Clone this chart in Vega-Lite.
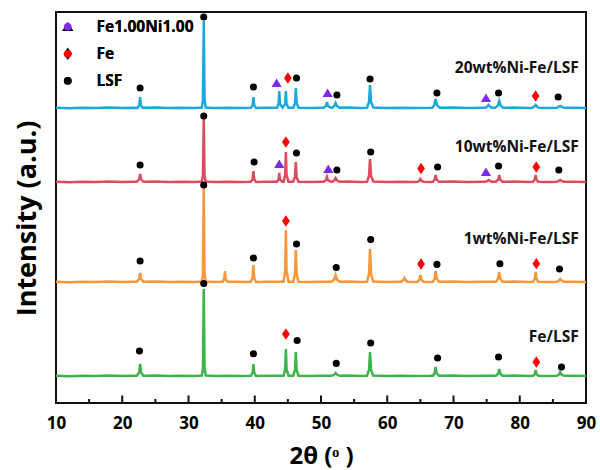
{
"$schema":"https://vega.github.io/schema/vega-lite/v6.json",
"width":530,"height":391,
"autosize":{"type":"none"},
"padding":{"left":56,"top":12,"right":14,"bottom":67},
"config":{"view":{"stroke":"#111","strokeWidth":2},"font":"Open Sans",
 "legend":{"labelOffset":21,"symbolSize":60,"rowPadding":10,"padding":0,"labelFont":"Open Sans","labelFontWeight":"bold","labelFontSize":15.5,"labelColor":"#000","symbolStrokeWidth":0,"symbolOpacity":1}},
"datasets":{
"lines":[
{"s":"b","x":10,"y":295.3},{"s":"b","x":12,"y":294.8},{"s":"b","x":14,"y":295.2},{"s":"b","x":16,"y":294.9},{"s":"b","x":18,"y":295.4},{"s":"b","x":20,"y":295},{"s":"b","x":21.5,"y":295.3},
{"s":"b","x":22.3,"y":295.1},{"s":"b","x":22.58,"y":297.8},{"s":"b","x":22.7,"y":306},{"s":"b","x":22.82,"y":297.8},{"s":"b","x":23.1,"y":295.2},
{"s":"b","x":25,"y":295.4},{"s":"b","x":27,"y":294.9},{"s":"b","x":29,"y":295.3},{"s":"b","x":31,"y":295.1},
{"s":"b","x":32.0,"y":295.5},{"s":"b","x":32.18,"y":303},{"s":"b","x":32.3,"y":382},{"s":"b","x":32.42,"y":303},{"s":"b","x":32.6,"y":295.5},
{"s":"b","x":34,"y":295},{"s":"b","x":36,"y":295.3},{"s":"b","x":38,"y":294.9},
{"s":"b","x":39.4,"y":295.2},{"s":"b","x":39.68,"y":297.8},{"s":"b","x":39.8,"y":306},{"s":"b","x":39.92,"y":297.8},{"s":"b","x":40.2,"y":295.1},
{"s":"b","x":41.5,"y":295.3},{"s":"b","x":43.2,"y":295.2},
{"s":"b","x":43.35,"y":295.2},{"s":"b","x":43.6,"y":299},{"s":"b","x":43.7,"y":312},{"s":"b","x":43.8,"y":299},{"s":"b","x":44.2,"y":295.3},
{"s":"b","x":44.6,"y":299},{"s":"b","x":44.7,"y":312},{"s":"b","x":44.8,"y":299},{"s":"b","x":45.1,"y":295.3},
{"s":"b","x":45.5,"y":295.2},
{"s":"b","x":45.8,"y":295.3},{"s":"b","x":46.08,"y":300},{"s":"b","x":46.2,"y":315},{"s":"b","x":46.32,"y":300},{"s":"b","x":46.6,"y":295.3},
{"s":"b","x":48,"y":295},{"s":"b","x":50.3,"y":295.3},
{"s":"b","x":50.4,"y":295.2},{"s":"b","x":50.75,"y":297},{"s":"b","x":50.9,"y":301},{"s":"b","x":51.05,"y":297},{"s":"b","x":51.5,"y":295.3},
{"s":"b","x":51.7,"y":295.2},{"s":"b","x":52.0,"y":297},{"s":"b","x":52.2,"y":300},{"s":"b","x":52.4,"y":297},{"s":"b","x":52.8,"y":295.2},
{"s":"b","x":54,"y":295.4},{"s":"b","x":56,"y":295},
{"s":"b","x":56.95,"y":295.3},{"s":"b","x":57.25,"y":301},{"s":"b","x":57.4,"y":318},{"s":"b","x":57.55,"y":301},{"s":"b","x":57.9,"y":295.4},
{"s":"b","x":60,"y":295.1},{"s":"b","x":62,"y":295.3},{"s":"b","x":64,"y":295},{"s":"b","x":66.6,"y":295.2},
{"s":"b","x":66.8,"y":295.3},{"s":"b","x":67.1,"y":298},{"s":"b","x":67.3,"y":304},{"s":"b","x":67.5,"y":298},{"s":"b","x":67.9,"y":295.2},
{"s":"b","x":70,"y":295.4},{"s":"b","x":72,"y":295},{"s":"b","x":74.5,"y":295.3},
{"s":"b","x":74.8,"y":295.2},{"s":"b","x":75.1,"y":296.5},{"s":"b","x":75.3,"y":298},{"s":"b","x":75.5,"y":296.5},{"s":"b","x":75.8,"y":295.3},
{"s":"b","x":76.3,"y":295.3},{"s":"b","x":76.7,"y":297.5},{"s":"b","x":76.9,"y":302},{"s":"b","x":77.1,"y":297.5},{"s":"b","x":77.5,"y":295.2},
{"s":"b","x":79,"y":295.4},{"s":"b","x":81.5,"y":295},
{"s":"b","x":81.9,"y":295.2},{"s":"b","x":82.2,"y":296.5},{"s":"b","x":82.4,"y":298},{"s":"b","x":82.6,"y":296.5},{"s":"b","x":82.9,"y":295.3},
{"s":"b","x":84.5,"y":295.1},
{"s":"b","x":85.6,"y":295.3},{"s":"b","x":85.9,"y":296.3},{"s":"b","x":86.1,"y":297},{"s":"b","x":86.3,"y":296.3},{"s":"b","x":86.7,"y":295.2},
{"s":"b","x":88,"y":295.3},{"s":"b","x":90,"y":295},

{"s":"r","x":10,"y":221.3},{"s":"r","x":12,"y":220.8},{"s":"r","x":14,"y":221.2},{"s":"r","x":16,"y":220.9},{"s":"r","x":18,"y":221.4},{"s":"r","x":20,"y":221},{"s":"r","x":21.5,"y":221.3},
{"s":"r","x":22.2,"y":221.2},{"s":"r","x":22.55,"y":223.5},{"s":"r","x":22.7,"y":229},{"s":"r","x":22.85,"y":223.5},{"s":"r","x":23.2,"y":221.2},
{"s":"r","x":25,"y":221.4},{"s":"r","x":27,"y":220.9},{"s":"r","x":29,"y":221.3},{"s":"r","x":31,"y":221.1},
{"s":"r","x":32.0,"y":221.5},{"s":"r","x":32.18,"y":227},{"s":"r","x":32.3,"y":285},{"s":"r","x":32.42,"y":227},{"s":"r","x":32.6,"y":221.5},
{"s":"r","x":34,"y":221},{"s":"r","x":36,"y":221.3},{"s":"r","x":38,"y":220.9},
{"s":"r","x":39.4,"y":221.2},{"s":"r","x":39.68,"y":223.8},{"s":"r","x":39.8,"y":232},{"s":"r","x":39.92,"y":223.8},{"s":"r","x":40.2,"y":221.1},
{"s":"r","x":41.5,"y":221.3},{"s":"r","x":43.2,"y":221.2},
{"s":"r","x":43.35,"y":221.2},{"s":"r","x":43.6,"y":223.5},{"s":"r","x":43.7,"y":230},{"s":"r","x":43.8,"y":223.5},{"s":"r","x":44.15,"y":221.3},
{"s":"r","x":44.35,"y":221.3},{"s":"r","x":44.6,"y":228},{"s":"r","x":44.7,"y":251},{"s":"r","x":44.8,"y":228},{"s":"r","x":45.1,"y":221.3},
{"s":"r","x":45.5,"y":221.2},
{"s":"r","x":45.8,"y":221.3},{"s":"r","x":46.08,"y":226},{"s":"r","x":46.2,"y":241},{"s":"r","x":46.32,"y":226},{"s":"r","x":46.6,"y":221.3},
{"s":"r","x":48,"y":221},{"s":"r","x":50.3,"y":221.3},
{"s":"r","x":50.4,"y":221.2},{"s":"r","x":50.75,"y":222.8},{"s":"r","x":50.9,"y":226},{"s":"r","x":51.05,"y":222.8},{"s":"r","x":51.5,"y":221.3},
{"s":"r","x":51.7,"y":221.2},{"s":"r","x":52.0,"y":222.6},{"s":"r","x":52.2,"y":225},{"s":"r","x":52.4,"y":222.6},{"s":"r","x":52.8,"y":221.2},
{"s":"r","x":54,"y":221.4},{"s":"r","x":56,"y":221},
{"s":"r","x":56.95,"y":221.3},{"s":"r","x":57.25,"y":227},{"s":"r","x":57.4,"y":244},{"s":"r","x":57.55,"y":227},{"s":"r","x":57.9,"y":221.4},
{"s":"r","x":60,"y":221.1},{"s":"r","x":62,"y":221.3},{"s":"r","x":64.3,"y":221},
{"s":"r","x":64.6,"y":221.2},{"s":"r","x":64.85,"y":222.3},{"s":"r","x":65.0,"y":224},{"s":"r","x":65.15,"y":222.3},{"s":"r","x":65.5,"y":221.2},
{"s":"r","x":66.5,"y":221.1},
{"s":"r","x":66.9,"y":221.3},{"s":"r","x":67.15,"y":223.5},{"s":"r","x":67.3,"y":228},{"s":"r","x":67.45,"y":223.5},{"s":"r","x":67.8,"y":221.2},
{"s":"r","x":70,"y":221.4},{"s":"r","x":72,"y":221},{"s":"r","x":74.5,"y":221.3},
{"s":"r","x":74.8,"y":221.2},{"s":"r","x":75.1,"y":222},{"s":"r","x":75.3,"y":223},{"s":"r","x":75.5,"y":222},{"s":"r","x":75.8,"y":221.3},
{"s":"r","x":76.4,"y":221.3},{"s":"r","x":76.75,"y":223.5},{"s":"r","x":76.9,"y":228},{"s":"r","x":77.05,"y":223.5},{"s":"r","x":77.4,"y":221.2},
{"s":"r","x":79,"y":221.4},{"s":"r","x":81.5,"y":221},
{"s":"r","x":82.0,"y":221.2},{"s":"r","x":82.28,"y":223.5},{"s":"r","x":82.4,"y":228},{"s":"r","x":82.52,"y":223.5},{"s":"r","x":82.8,"y":221.3},
{"s":"r","x":84.5,"y":221.1},
{"s":"r","x":85.6,"y":221.3},{"s":"r","x":85.9,"y":222.2},{"s":"r","x":86.1,"y":223},{"s":"r","x":86.3,"y":222.2},{"s":"r","x":86.7,"y":221.2},
{"s":"r","x":88,"y":221.3},{"s":"r","x":90,"y":221},

{"s":"o","x":10,"y":121.3},{"s":"o","x":12,"y":120.8},{"s":"o","x":14,"y":121.2},{"s":"o","x":16,"y":120.9},{"s":"o","x":18,"y":121.4},{"s":"o","x":20,"y":121},{"s":"o","x":21.5,"y":121.3},
{"s":"o","x":22.2,"y":121.2},{"s":"o","x":22.55,"y":124},{"s":"o","x":22.7,"y":130},{"s":"o","x":22.85,"y":124},{"s":"o","x":23.2,"y":121.2},
{"s":"o","x":25,"y":121.4},{"s":"o","x":27,"y":120.9},{"s":"o","x":29,"y":121.3},{"s":"o","x":31,"y":121.1},
{"s":"o","x":32.0,"y":121.5},{"s":"o","x":32.18,"y":128},{"s":"o","x":32.3,"y":216},{"s":"o","x":32.42,"y":128},{"s":"o","x":32.6,"y":121.5},
{"s":"o","x":34,"y":121},{"s":"o","x":35.0,"y":121.2},
{"s":"o","x":35.15,"y":121.2},{"s":"o","x":35.4,"y":124},{"s":"o","x":35.5,"y":132},{"s":"o","x":35.6,"y":124},{"s":"o","x":35.9,"y":121.2},
{"s":"o","x":37.5,"y":121.3},{"s":"o","x":39.2,"y":121},
{"s":"o","x":39.4,"y":121.2},{"s":"o","x":39.68,"y":125},{"s":"o","x":39.8,"y":138},{"s":"o","x":39.92,"y":125},{"s":"o","x":40.2,"y":121.1},
{"s":"o","x":42,"y":121.3},{"s":"o","x":43.8,"y":121.2},
{"s":"o","x":44.35,"y":121.3},{"s":"o","x":44.6,"y":132},{"s":"o","x":44.7,"y":173},{"s":"o","x":44.8,"y":132},{"s":"o","x":45.1,"y":121.3},
{"s":"o","x":45.5,"y":121.2},
{"s":"o","x":45.8,"y":121.3},{"s":"o","x":46.08,"y":129},{"s":"o","x":46.2,"y":153},{"s":"o","x":46.32,"y":129},{"s":"o","x":46.6,"y":121.3},
{"s":"o","x":48,"y":121},{"s":"o","x":50,"y":121.3},
{"s":"o","x":51.6,"y":121.2},{"s":"o","x":52.0,"y":123.5},{"s":"o","x":52.2,"y":128},{"s":"o","x":52.4,"y":123.5},{"s":"o","x":52.8,"y":121.2},
{"s":"o","x":54,"y":121.4},{"s":"o","x":56,"y":121},
{"s":"o","x":56.95,"y":121.3},{"s":"o","x":57.25,"y":129},{"s":"o","x":57.4,"y":154},{"s":"o","x":57.55,"y":129},{"s":"o","x":57.9,"y":121.4},
{"s":"o","x":60,"y":121.1},{"s":"o","x":61.9,"y":121.3},
{"s":"o","x":62.1,"y":121.2},{"s":"o","x":62.4,"y":122.7},{"s":"o","x":62.6,"y":125},{"s":"o","x":62.8,"y":122.7},{"s":"o","x":63.1,"y":121.2},
{"s":"o","x":64.3,"y":121},
{"s":"o","x":64.6,"y":121.2},{"s":"o","x":64.85,"y":123.5},{"s":"o","x":65.0,"y":128},{"s":"o","x":65.15,"y":123.5},{"s":"o","x":65.5,"y":121.2},
{"s":"o","x":66.5,"y":121.1},
{"s":"o","x":66.9,"y":121.3},{"s":"o","x":67.15,"y":124.5},{"s":"o","x":67.3,"y":132},{"s":"o","x":67.45,"y":124.5},{"s":"o","x":67.8,"y":121.2},
{"s":"o","x":70,"y":121.4},{"s":"o","x":72,"y":121},{"s":"o","x":74.5,"y":121.3},{"s":"o","x":76.0,"y":121.2},
{"s":"o","x":76.4,"y":121.3},{"s":"o","x":76.75,"y":124.5},{"s":"o","x":76.9,"y":131},{"s":"o","x":77.05,"y":124.5},{"s":"o","x":77.4,"y":121.2},
{"s":"o","x":79,"y":121.4},{"s":"o","x":81.5,"y":121},
{"s":"o","x":82.0,"y":121.2},{"s":"o","x":82.28,"y":124.5},{"s":"o","x":82.4,"y":131},{"s":"o","x":82.52,"y":124.5},{"s":"o","x":82.8,"y":121.3},
{"s":"o","x":84.5,"y":121.1},
{"s":"o","x":85.6,"y":121.3},{"s":"o","x":85.9,"y":122.5},{"s":"o","x":86.1,"y":124},{"s":"o","x":86.3,"y":122.5},{"s":"o","x":86.7,"y":121.2},
{"s":"o","x":88,"y":121.3},{"s":"o","x":90,"y":121},

{"s":"g","x":10,"y":27.3},{"s":"g","x":12,"y":26.8},{"s":"g","x":14,"y":27.2},{"s":"g","x":16,"y":26.9},{"s":"g","x":18,"y":27.4},{"s":"g","x":20,"y":27},{"s":"g","x":21.5,"y":27.3},
{"s":"g","x":22.2,"y":27.2},{"s":"g","x":22.55,"y":30.5},{"s":"g","x":22.7,"y":39},{"s":"g","x":22.85,"y":30.5},{"s":"g","x":23.2,"y":27.2},
{"s":"g","x":25,"y":27.4},{"s":"g","x":27,"y":26.9},{"s":"g","x":29,"y":27.3},{"s":"g","x":31,"y":27.1},
{"s":"g","x":32.0,"y":27.5},{"s":"g","x":32.18,"y":34},{"s":"g","x":32.3,"y":114},{"s":"g","x":32.42,"y":34},{"s":"g","x":32.6,"y":27.5},
{"s":"g","x":34,"y":27},{"s":"g","x":36,"y":27.3},{"s":"g","x":38,"y":26.9},
{"s":"g","x":39.4,"y":27.2},{"s":"g","x":39.68,"y":30.5},{"s":"g","x":39.8,"y":39},{"s":"g","x":39.92,"y":30.5},{"s":"g","x":40.2,"y":27.1},
{"s":"g","x":42,"y":27.3},{"s":"g","x":43.8,"y":27.2},
{"s":"g","x":44.35,"y":27.3},{"s":"g","x":44.6,"y":34},{"s":"g","x":44.7,"y":54},{"s":"g","x":44.8,"y":34},{"s":"g","x":45.1,"y":27.3},
{"s":"g","x":45.5,"y":27.2},
{"s":"g","x":45.8,"y":27.3},{"s":"g","x":46.08,"y":33},{"s":"g","x":46.2,"y":51},{"s":"g","x":46.32,"y":33},{"s":"g","x":46.6,"y":27.3},
{"s":"g","x":48,"y":27},{"s":"g","x":50,"y":27.3},
{"s":"g","x":51.6,"y":27.2},{"s":"g","x":52.0,"y":28.5},{"s":"g","x":52.2,"y":30},{"s":"g","x":52.4,"y":28.5},{"s":"g","x":52.8,"y":27.2},
{"s":"g","x":54,"y":27.4},{"s":"g","x":56,"y":27},
{"s":"g","x":56.95,"y":27.3},{"s":"g","x":57.25,"y":33},{"s":"g","x":57.4,"y":51},{"s":"g","x":57.55,"y":33},{"s":"g","x":57.9,"y":27.4},
{"s":"g","x":60,"y":27.1},{"s":"g","x":62,"y":27.3},{"s":"g","x":64,"y":27},{"s":"g","x":66.5,"y":27.2},
{"s":"g","x":66.9,"y":27.3},{"s":"g","x":67.15,"y":30},{"s":"g","x":67.3,"y":36},{"s":"g","x":67.45,"y":30},{"s":"g","x":67.8,"y":27.2},
{"s":"g","x":70,"y":27.4},{"s":"g","x":72,"y":27},{"s":"g","x":74.5,"y":27.3},{"s":"g","x":76.0,"y":27.2},
{"s":"g","x":76.4,"y":27.3},{"s":"g","x":76.75,"y":29.5},{"s":"g","x":76.9,"y":34},{"s":"g","x":77.05,"y":29.5},{"s":"g","x":77.4,"y":27.2},
{"s":"g","x":79,"y":27.4},{"s":"g","x":81.5,"y":27},
{"s":"g","x":82.0,"y":27.2},{"s":"g","x":82.28,"y":29},{"s":"g","x":82.4,"y":33},{"s":"g","x":82.52,"y":29},{"s":"g","x":82.8,"y":27.3},
{"s":"g","x":84.5,"y":27.1},
{"s":"g","x":85.6,"y":27.3},{"s":"g","x":85.9,"y":28.5},{"s":"g","x":86.1,"y":31},{"s":"g","x":86.3,"y":28.5},{"s":"g","x":86.7,"y":27.2},
{"s":"g","x":88,"y":27.3},{"s":"g","x":90,"y":27}
],
"marks":[
{"p":"LSF","x":22.7,"y":315},{"p":"LSF","x":32.3,"y":386},{"p":"LSF","x":39.8,"y":316},{"p":"Fe1.00Ni1.00","x":43.3,"y":320},{"p":"Fe","x":45.0,"y":325},{"p":"LSF","x":46.3,"y":325},{"p":"Fe1.00Ni1.00","x":51.0,"y":310},{"p":"LSF","x":52.4,"y":308},{"p":"LSF","x":57.4,"y":324},{"p":"LSF","x":67.5,"y":310},{"p":"Fe1.00Ni1.00","x":74.9,"y":305},{"p":"LSF","x":76.8,"y":310},{"p":"Fe","x":82.4,"y":307},{"p":"LSF","x":85.8,"y":306},
{"p":"LSF","x":22.7,"y":238},{"p":"LSF","x":32.3,"y":287},{"p":"LSF","x":39.9,"y":241},{"p":"Fe1.00Ni1.00","x":43.7,"y":239},{"p":"Fe","x":44.7,"y":261},{"p":"LSF","x":46.3,"y":250},{"p":"Fe1.00Ni1.00","x":51.1,"y":234},{"p":"LSF","x":52.4,"y":233},{"p":"LSF","x":57.5,"y":251},{"p":"Fe","x":65.1,"y":234.5},{"p":"LSF","x":67.6,"y":236},{"p":"Fe1.00Ni1.00","x":74.9,"y":231},{"p":"LSF","x":76.8,"y":237},{"p":"Fe","x":82.5,"y":236},{"p":"LSF","x":85.9,"y":233},
{"p":"LSF","x":22.7,"y":142},{"p":"LSF","x":32.3,"y":218},{"p":"LSF","x":39.8,"y":145},{"p":"Fe","x":44.7,"y":182},{"p":"LSF","x":46.3,"y":159},{"p":"LSF","x":52.3,"y":135.5},{"p":"LSF","x":57.5,"y":163.5},{"p":"Fe","x":65.1,"y":139},{"p":"LSF","x":67.5,"y":138.6},{"p":"LSF","x":77.0,"y":139.3},{"p":"Fe","x":82.5,"y":139.3},{"p":"LSF","x":86.0,"y":134},
{"p":"LSF","x":22.6,"y":52},{"p":"LSF","x":32.3,"y":119.5},{"p":"LSF","x":39.8,"y":49.3},{"p":"Fe","x":44.7,"y":69},{"p":"LSF","x":46.4,"y":62.5},{"p":"LSF","x":52.3,"y":39.6},{"p":"LSF","x":57.5,"y":60},{"p":"LSF","x":67.6,"y":45},{"p":"LSF","x":76.8,"y":46},{"p":"Fe","x":82.5,"y":41},{"p":"LSF","x":86.3,"y":36}
],
"labels":[
{"t":"20wt%Ni-Fe/LSF","x":88.9,"y":335},
{"t":"10wt%Ni-Fe/LSF","x":88.9,"y":256},
{"t":"1wt%Ni-Fe/LSF","x":88.9,"y":164},
{"t":"Fe/LSF","x":88.9,"y":66}
],
"major":[{"t":10},{"t":20},{"t":30},{"t":40},{"t":50},{"t":60},{"t":70},{"t":80},{"t":90}],
"minor":[{"t":15},{"t":25},{"t":35},{"t":45},{"t":55},{"t":65},{"t":75},{"t":85}]
},
"layer":[
{"data":{"name":"lines"},
 "mark":{"type":"line","strokeWidth":2.5,"interpolate":"linear"},
 "encoding":{
  "x":{"field":"x","type":"quantitative","scale":{"domain":[10,90],"nice":false,"zero":false},
   "axis":{"values":[10,20,30,40,50,60,70,80,90],"labelFlush":false,"labelOverlap":false,
    "domain":false,"ticks":false,"grid":false,
    "labelFont":"Open Sans","labelFontWeight":"bold","labelFontSize":17,"labelColor":"#000","labelPadding":12,
    "title":"2θ (ᵒ )","titleFont":"Open Sans","titleFontWeight":"bold","titleFontSize":24,"titleColor":"#000","titleY":60,"titleBaseline":"alphabetic"}},
  "y":{"field":"y","type":"quantitative","scale":{"domain":[0,391],"nice":false,"zero":false},
   "axis":{"labels":false,"ticks":false,"domain":false,"grid":false,"title":"Intensity (a.u.)","titleFont":"Open Sans","titleFontWeight":"bold","titleFontSize":27,"titleColor":"#000","titleX":-29,"titleY":206,"titleBaseline":"middle"}},
  "color":{"field":"s","type":"nominal","scale":{"domain":["b","r","o","g"],"range":["#1CA8DD","#DC4C5E","#F7963B","#3BB44A"]},"legend":null},
  "order":{"field":"x","type":"quantitative"}
 }},
{"data":{"name":"major"},
 "mark":{"type":"rule","strokeWidth":2,"color":"#111"},
 "encoding":{"x":{"field":"t","type":"quantitative"},"y":{"datum":0},"y2":{"datum":7.5}}},
{"data":{"name":"minor"},
 "mark":{"type":"rule","strokeWidth":2,"color":"#111"},
 "encoding":{"x":{"field":"t","type":"quantitative"},"y":{"datum":0},"y2":{"datum":4}}},
{"data":{"name":"marks"},
 "mark":{"type":"point","filled":true,"opacity":1,"size":50},
 "encoding":{
  "x":{"field":"x","type":"quantitative"},
  "y":{"field":"y","type":"quantitative"},
  "shape":{"field":"p","type":"nominal","scale":{"domain":["Fe1.00Ni1.00","Fe","LSF"],"range":["M0,-1.3L1.45,1.1L-1.45,1.1Z","M0,-1.6L1.1,0L0,1.6L-1.1,0Z","circle"]},
   "legend":{"orient":"none","legendX":4,"legendY":7,"title":null}},
  "color":{"field":"p","type":"nominal","scale":{"domain":["Fe1.00Ni1.00","Fe","LSF"],"range":["#7F2AE8","#FF0000","#000000"]},
   "legend":{"orient":"none","legendX":4,"legendY":7,"title":null}}
 }},
{"data":{"name":"labels"},
 "mark":{"type":"text","align":"right","baseline":"middle","font":"Open Sans","fontWeight":"bold","fontSize":15.5,"color":"#111"},
 "encoding":{
  "x":{"field":"x","type":"quantitative"},
  "y":{"field":"y","type":"quantitative"},
  "text":{"field":"t","type":"nominal"}
 }}
],
"resolve":{"scale":{"color":"independent"}}
}
